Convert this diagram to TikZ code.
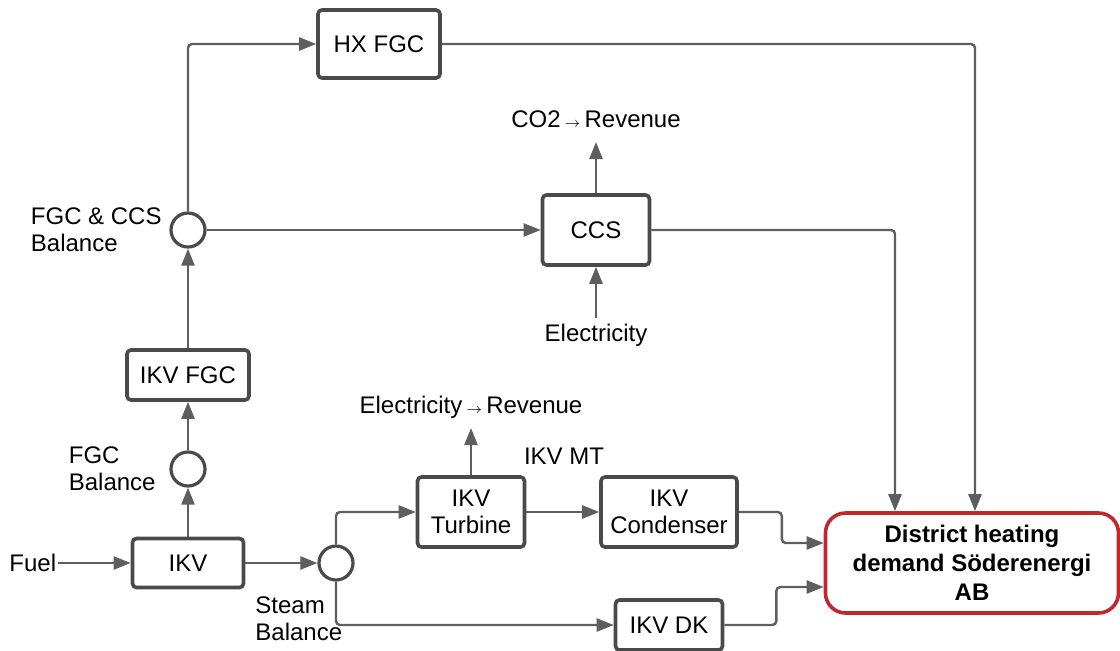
\documentclass[tikz,border=0pt]{standalone}
\usepackage{fontspec}
\setmainfont{Liberation Sans}
\usepackage{tikz}
\usetikzlibrary{shapes, arrows.meta, positioning, calc}

\definecolor{linegray}{HTML}{5E5E5E}
\definecolor{boxgray}{HTML}{4A4A4A}
\definecolor{demandred}{HTML}{C0282D}

\begin{document}
\begin{tikzpicture}[
  x=0.5pt, y=-0.5pt,
  font=\fontsize{12}{13.5}\selectfont,
  block/.style={draw=boxgray, line width=1.8pt, rounded corners=2pt, align=center, fill=white, inner sep=1pt},
  balance/.style={draw=boxgray, circle, line width=1.6pt, minimum size=17pt, inner sep=0pt, fill=white},
  lbl/.style={inner sep=1pt, align=left},
  outlbl/.style={inner xsep=0pt, inner ysep=7pt, text depth=0pt, anchor=south},
  flow/.style={draw=linegray, line width=1.2pt, rounded corners=2pt, -{Triangle[length=8.5pt, width=6.5pt]}, color=linegray}
]
  \useasboundingbox (0,0) rectangle (1120,650);

  % Units
  \node[block, minimum width=61pt, minimum height=34pt] (hxfgc) at (379,44) {HX FGC};
  \node[block, minimum width=53.5pt, minimum height=35pt] (ccs) at (596,230) {CCS};
  \node[block, minimum width=61pt, minimum height=25pt] (ikvfgc) at (188,375) {IKV FGC};
  \node[block, minimum width=55.5pt, minimum height=24.5pt] (ikv) at (188,563) {IKV};
  \node[block, minimum width=53.5pt, minimum height=35pt] (turbine) at (471,512) {IKV\\Turbine};
  \node[block, minimum width=68pt, minimum height=35pt] (condenser) at (669,512) {IKV\\Condenser};
  \node[block, minimum width=53.5pt, minimum height=25pt] (dk) at (669,625) {IKV DK};
  \node[block, draw=demandred, rounded corners=10pt, minimum width=146.5pt, minimum height=50pt,
        font=\fontsize{12}{14.5}\selectfont\bfseries] (demand) at (972,563) {District heating\\demand Söderenergi\\AB};

  % Balances
  \node[balance] (ccsbal) at (188,230) {};
  \node[balance] (fgcbal) at (188,469) {};
  \node[balance] (steambal) at (336,563) {};
  \node[lbl, anchor=east] (ccsballbl) at (164,230) {FGC \& CCS\\Balance};
  \node[lbl, anchor=east] (fgcballbl) at (158,469) {FGC\\Balance};
  \node[lbl, anchor=west] (steamballbl) at (253,619) {Steam\\Balance};

  % Inputs and outputs
  \node[lbl, anchor=west] (fuel) at (7,563) {Fuel};
  \node[outlbl] (co2) at (596,142) {CO2\,{\scriptsize$\rightarrow$}\,Revenue};
  \node[outlbl] (elrev) at (471,428) {Electricity\,{\scriptsize$\rightarrow$}\,Revenue};
  \node[lbl, anchor=north, inner ysep=3pt] (elec) at (596,318) {Electricity};
  \node[lbl] (ikvmt) at (564,456) {IKV MT};

  % Arrows
  \draw[flow] (fuel.east) -- (ikv.west);
  \draw[flow] (ikv.east) -- (steambal.west);
  \draw[flow] (ikv.north) -- (fgcbal.south);
  \draw[flow] (fgcbal.north) -- (ikvfgc.south);
  \draw[flow] (ikvfgc.north) -- (ccsbal.south);
  \draw[flow] (ccsbal.north) |- (hxfgc.west);
  \draw[flow] (ccsbal.east) -- (ccs.west);
  \draw[flow] (ccs.north) -- (co2.south);
  \draw[flow] (elec.north) -- (ccs.south);
  \draw[flow] (hxfgc.east) -| ([xshift=1.5pt]demand.north);
  \draw[flow] (ccs.east) -| ([xshift=-38.5pt]demand.north);
  \draw[flow] (steambal.north) |- (turbine.west);
  \draw[flow] (turbine.north) -- (elrev.south);
  \draw[flow] (turbine.east) -- (condenser.west);
  \draw[flow] (condenser.east) -- ++(21.5pt,0) |- ([yshift=10pt]demand.west);
  \draw[flow] (steambal.south) |- (dk.west);
  \draw[flow] (dk.east) -- ++(26pt,0) |- ([yshift=-12pt]demand.west);

\end{tikzpicture}
\end{document}
